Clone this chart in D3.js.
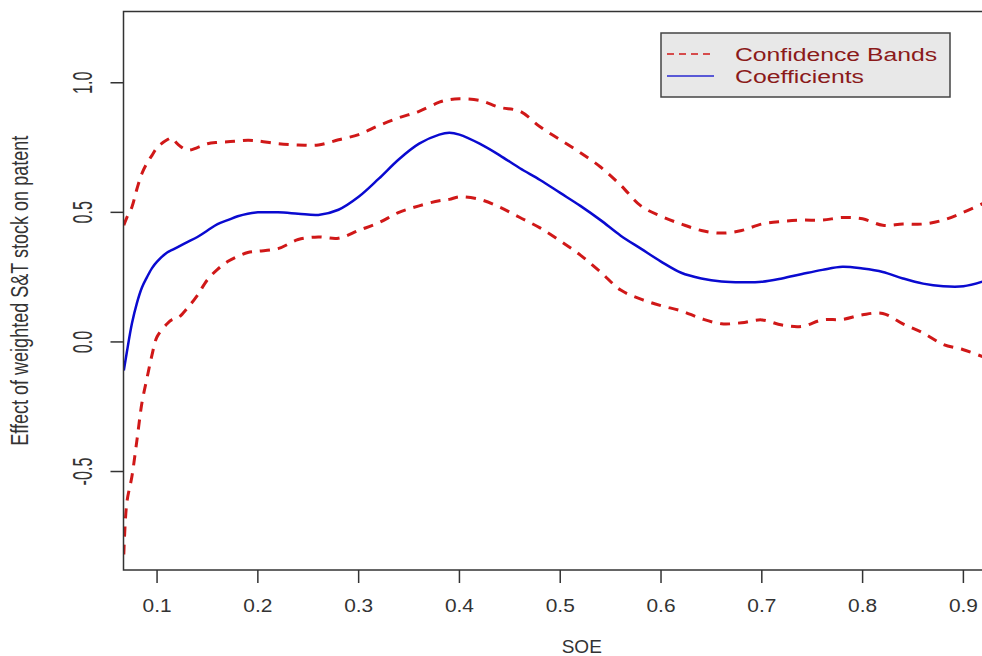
<!DOCTYPE html>
<html>
<head>
<meta charset="utf-8">
<script src="https://cdn.jsdelivr.net/npm/d3@7"></script>
<style>
  html, body { margin: 0; padding: 0; background: #fff; }
  svg { display: block; font-family: "Liberation Sans", Arial, sans-serif; }
</style>
</head>
<body>
<div id="chart"></div>
<script>
// SOE grid and the three curves
const soe = [0.067, 0.07, 0.075, 0.08, 0.085, 0.09, 0.095, 0.10, 0.11, 0.115, 0.12, 0.13, 0.14, 0.15, 0.16, 0.17, 0.18, 0.19, 0.20,
  0.22, 0.24, 0.26, 0.28, 0.30, 0.32, 0.34, 0.36, 0.38, 0.39, 0.40, 0.42, 0.44, 0.46, 0.48, 0.50, 0.52, 0.54, 0.56, 0.58,
  0.60, 0.62, 0.64, 0.66, 0.68, 0.70, 0.72, 0.74, 0.76, 0.78, 0.80, 0.82, 0.84, 0.86, 0.88, 0.90, 0.92];

const coefficients = [-0.11, -0.04, 0.07, 0.15, 0.21, 0.25, 0.285, 0.31, 0.345, 0.355, 0.365, 0.385, 0.405, 0.43, 0.455, 0.47, 0.485, 0.495, 0.50,
  0.50, 0.495, 0.49, 0.51, 0.56, 0.63, 0.705, 0.765, 0.80, 0.807, 0.80, 0.765, 0.72, 0.67, 0.625, 0.575, 0.525, 0.47, 0.41, 0.36,
  0.31, 0.267, 0.245, 0.233, 0.23, 0.232, 0.245, 0.262, 0.278, 0.29, 0.283, 0.27, 0.245, 0.225, 0.215, 0.215, 0.234];

const upperBand = [0.45, 0.48, 0.52, 0.59, 0.65, 0.69, 0.72, 0.75, 0.78, 0.787, 0.765, 0.74, 0.75, 0.765, 0.77, 0.772, 0.775, 0.778, 0.776,
  0.765, 0.76, 0.76, 0.78, 0.80, 0.835, 0.865, 0.89, 0.925, 0.935, 0.938, 0.932, 0.905, 0.89, 0.83, 0.78, 0.73, 0.675, 0.605, 0.525,
  0.485, 0.455, 0.43, 0.42, 0.43, 0.455, 0.465, 0.47, 0.47, 0.48, 0.475, 0.45, 0.455, 0.455, 0.47, 0.50, 0.535];

const lowerBand = [-0.82, -0.62, -0.52, -0.38, -0.235, -0.14, -0.05, 0.02, 0.07, 0.086, 0.09, 0.13, 0.18, 0.24, 0.28, 0.31, 0.33, 0.345, 0.35,
  0.36, 0.395, 0.405, 0.40, 0.43, 0.46, 0.50, 0.525, 0.545, 0.55, 0.56, 0.55, 0.52, 0.48, 0.44, 0.39, 0.335, 0.27, 0.20, 0.165,
  0.14, 0.12, 0.09, 0.07, 0.074, 0.085, 0.065, 0.06, 0.085, 0.087, 0.105, 0.11, 0.07, 0.035, -0.01, -0.03, -0.058];

const xTicks = [0.1, 0.2, 0.3, 0.4, 0.5, 0.6, 0.7, 0.8, 0.9];
const yTicks = [-0.5, 0.0, 0.5, 1.0];
const legendLabels = ["Confidence Bands", "Coefficients"];

const W = 982, H = 656;
const plot = { left: 123.5, right: 1040, top: 11.5, bottom: 570 };

const x = d3.scaleLinear().domain([0.0667, 0.976]).range([plot.left, plot.right]);
const y = d3.scaleLinear().domain([-0.88, 1.275]).range([plot.bottom, plot.top]);

const svg = d3.select("#chart").append("svg")
  .attr("width", W)
  .attr("height", H);

svg.append("defs").append("clipPath").attr("id", "plotclip")
  .append("rect")
  .attr("x", plot.left).attr("y", plot.top)
  .attr("width", plot.right - plot.left).attr("height", plot.bottom - plot.top);

// curves
const line = d3.line().curve(d3.curveCatmullRom.alpha(0.5))
  .x((d, i) => x(soe[i]))
  .y(d => y(d));

const curves = svg.append("g").attr("clip-path", "url(#plotclip)");

[upperBand, lowerBand].forEach(band => {
  curves.append("path")
    .attr("d", line(band))
    .attr("fill", "none")
    .attr("stroke", "#d01818")
    .attr("stroke-width", 3)
    .attr("stroke-dasharray", "10,8");
});

curves.append("path")
  .attr("d", line(coefficients))
  .attr("fill", "none")
  .attr("stroke", "#0a0ad0")
  .attr("stroke-width", 2.5);

// frame
svg.append("rect")
  .attr("x", plot.left).attr("y", plot.top)
  .attr("width", plot.right - plot.left).attr("height", plot.bottom - plot.top)
  .attr("fill", "none")
  .attr("stroke", "#333")
  .attr("stroke-width", 1.5);

// x axis ticks + labels
const xAxis = svg.append("g");
xTicks.forEach(t => {
  xAxis.append("line")
    .attr("x1", x(t)).attr("x2", x(t))
    .attr("y1", plot.bottom).attr("y2", plot.bottom + 13)
    .attr("stroke", "#333").attr("stroke-width", 1.5);
  xAxis.append("text")
    .attr("transform", `translate(${x(t)},${plot.bottom + 42}) scale(1.1,1)`)
    .attr("text-anchor", "middle")
    .attr("font-size", 19)
    .attr("fill", "#333")
    .text(d3.format(".1f")(t));
});

// y axis ticks + labels (rotated, as in R)
const yAxis = svg.append("g");
yTicks.forEach(t => {
  yAxis.append("line")
    .attr("x1", plot.left - 13).attr("x2", plot.left)
    .attr("y1", y(t)).attr("y2", y(t))
    .attr("stroke", "#333").attr("stroke-width", 1.5);
  yAxis.append("text")
    .attr("transform", `translate(92,${y(t)}) rotate(-90) scale(0.85,1.45)`)
    .attr("text-anchor", "middle")
    .attr("font-size", 19)
    .attr("fill", "#333")
    .text(d3.format(".1f")(t).replace("−", "-"));
});

// axis titles
svg.append("text")
  .attr("x", (plot.left + plot.right) / 2)
  .attr("y", 653)
  .attr("text-anchor", "middle")
  .attr("font-size", 19)
  .attr("fill", "#333")
  .text("SOE");

svg.append("text")
  .attr("transform", `translate(28,${(plot.top + plot.bottom) / 2}) rotate(-90) scale(1,1.25)`)
  .attr("text-anchor", "middle")
  .attr("font-size", 19)
  .attr("fill", "#333")
  .attr("textLength", 310)
  .attr("lengthAdjust", "spacingAndGlyphs")
  .text("Effect of weighted S&T stock on patent");

// legend
const legend = svg.append("g");
legend.append("rect")
  .attr("x", 661).attr("y", 33)
  .attr("width", 289).attr("height", 64)
  .attr("fill", "#e8e8e8")
  .attr("stroke", "#444")
  .attr("stroke-width", 1.5);

const legendRows = [
  { label: legendLabels[0], color: "#d01818", dash: "7,5", len: 202 },
  { label: legendLabels[1], color: "#2a2ad0", dash: null, len: 129 }
];
legendRows.forEach((r, i) => {
  const ly = 54 + i * 22;
  legend.append("line")
    .attr("x1", 667).attr("x2", 714)
    .attr("y1", ly).attr("y2", ly)
    .attr("stroke", r.color)
    .attr("stroke-width", 1.5)
    .attr("stroke-dasharray", r.dash);
  legend.append("text")
    .attr("x", 735).attr("y", ly + 6.5)
    .attr("font-size", 18)
    .attr("fill", "#8b1a1a")
    .attr("textLength", r.len)
    .attr("lengthAdjust", "spacingAndGlyphs")
    .text(r.label);
});
</script>
</body>
</html>
